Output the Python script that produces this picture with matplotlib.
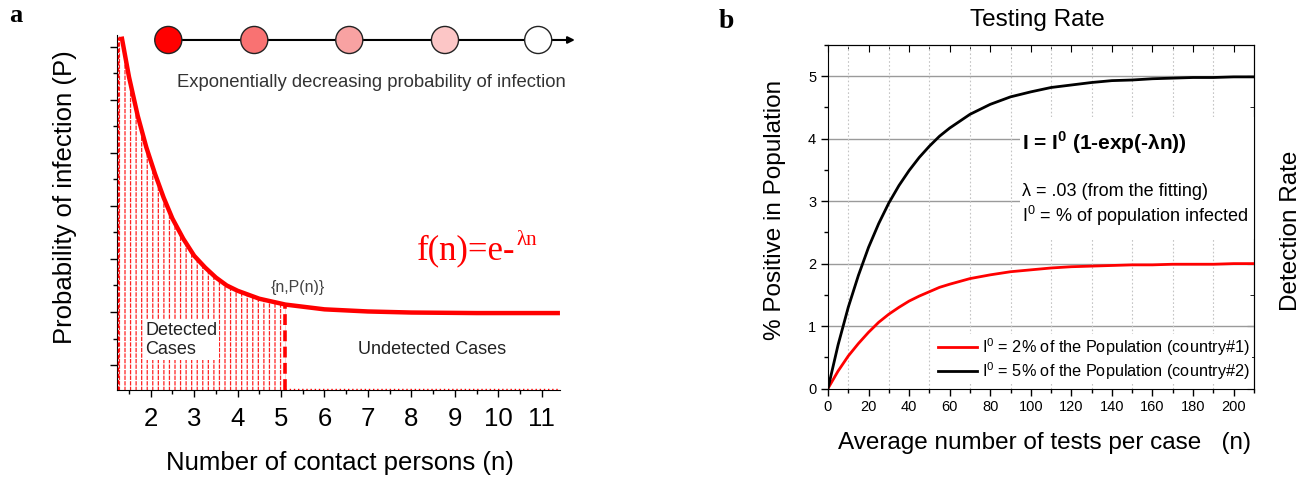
import numpy as np
import matplotlib
matplotlib.use("Agg")
import matplotlib.pyplot as plt
from matplotlib.patches import Rectangle

plt.rcParams['font.family'] = ['Liberation Sans', 'DejaVu Sans']
plt.rcParams['hatch.linewidth'] = 0.9

# ---- panel a : probability of infection vs contacts
contacts = [1.33, 1.5, 1.7, 1.9, 2.1, 2.3, 2.5, 2.75, 3.0, 3.25, 3.5, 3.75,
            4.0, 4.5, 5.1, 6.0, 7.0, 8.0, 9.5, 11.42]
prob = [6.19, 5.43, 4.70, 4.10, 3.60, 3.15, 2.76, 2.38, 2.06, 1.84, 1.65, 1.50,
        1.40, 1.25, 1.14, 1.05, 1.01, 0.99, 0.98, 0.98]
cutoff = 5.1
xticks_a = [2, 3, 4, 5, 6, 7, 8, 9, 10, 11]
circle_colors = ['#ff0000', '#f97272', '#f8a2a2', '#fcc6c6', '#ffffff']

# ---- panel b : % positive vs tests per case
tests = [0, 5, 10, 15, 20, 25, 30, 35, 40, 45, 50, 55, 60, 70, 80, 90, 100,
         110, 120, 130, 140, 150, 160, 170, 180, 190, 200, 210]
pos_c1 = [0, 0.28, 0.52, 0.72, 0.90, 1.06, 1.19, 1.30, 1.40, 1.48, 1.55, 1.62,
          1.67, 1.76, 1.82, 1.87, 1.90, 1.93, 1.95, 1.96, 1.97, 1.98, 1.98,
          1.99, 1.99, 1.99, 2.00, 2.00]
pos_c2 = [0, 0.70, 1.30, 1.81, 2.26, 2.64, 2.97, 3.25, 3.49, 3.70, 3.88, 4.04,
          4.17, 4.39, 4.55, 4.67, 4.75, 4.82, 4.86, 4.90, 4.93, 4.94, 4.96,
          4.97, 4.98, 4.98, 4.99, 4.99]
labels_b = [r'I$^{\mathregular{0}}$ = 2% of the Population (country#1)',
            r'I$^{\mathregular{0}}$ = 5% of the Population (country#2)']

fig = plt.figure(figsize=(13.01, 4.79), dpi=100)
W, H = 1301.0, 479.0

#=========================
#       PANEL A
#=========================
ax = fig.add_axes([0.0897, 0.1858, 0.3407, 0.7411])
xmin, xmax = 1.217, 11.42
ymin, ymax = -0.47, 6.22
ax.set_xlim(xmin, xmax)
ax.set_ylim(ymin, ymax)

k = contacts.index(cutoff)
nf = [xmin] + contacts[:k + 1]
pf = [prob[0]] + prob[:k + 1]
# dashed looking hatch: red verticals, cut by white horizontals
ax.fill_between(nf, ymin, pf, facecolor='none', edgecolor='#ff2020', hatch='|||', lw=0, zorder=1)
ax.fill_between(nf, ymin, pf, facecolor='none', edgecolor='white', hatch='---', lw=0, zorder=1.1)
ax.plot(contacts, prob, color='#ff0000', lw=3.2, solid_capstyle='butt', zorder=3)
ax.vlines(cutoff, ymin, prob[k], colors='#ff0000', linestyles=(0, (3, 1.5)), lw=2.6, zorder=3)
ax.vlines(xmin + 0.02, ymin, prob[0], colors='#ff0000', linestyles=(0, (3, 1.5)), lw=1, zorder=2.6)
ax.hlines(ymin + 0.02, cutoff, xmax, colors='#ff0000', linestyles=(0, (1, 2)), lw=1, zorder=2.6)

for s in ['top', 'right']:
    ax.spines[s].set_visible(False)
ax.set_xticks(xticks_a)
ax.set_xticks(np.arange(1.5, 11.5, 1.0), minor=True)
ax.set_yticks(range(0, 7))
ax.set_yticks(np.arange(0.5, 6.5, 1.0), minor=True)
ax.set_yticklabels([])
ax.tick_params(which='major', direction='out', length=5, width=1)
ax.tick_params(which='minor', direction='out', length=3, width=1)
ax.tick_params(axis='x', labelsize=18.5, pad=7)

# decoration on top: chain of circles
ax.annotate('', xy=(1.04, 0.986), xytext=(0.1164, 0.986), xycoords='axes fraction',
            arrowprops=dict(arrowstyle='-|>', color='black', lw=1.5, mutation_scale=10),
            annotation_clip=False)
cx = [0.1164, 0.3104, 0.5247, 0.7406, 0.9509]
ax.scatter(cx, [0.986] * len(cx), s=380, c=circle_colors, edgecolors='#222222',
           linewidths=1, transform=ax.transAxes, clip_on=False, zorder=5)

ax.text(0.574, 0.865, 'Exponentially decreasing probability of infection', transform=ax.transAxes,
        ha='center', va='center', fontsize=13.3, color='#333333')
ax.text(0.677, 0.392, 'f(n)=e-', transform=ax.transAxes, ha='left', va='center',
        fontsize=25, color='#ff0000', family='Liberation Serif')
ax.text(0.903, 0.4225, 'λn', transform=ax.transAxes, ha='left', va='center',
        fontsize=15, color='#ff0000', family='Liberation Serif')
ax.text(0.409, 0.29, '{n,P(n)}', transform=ax.transAxes, ha='center', va='center',
        fontsize=11.5, color='#444444')
ax.text(0.064, 0.141, 'Detected\nCases', transform=ax.transAxes, ha='left', va='center',
        fontsize=13, color='#222222', linespacing=1.15,
        bbox=dict(facecolor='white', edgecolor='none', pad=1.5), zorder=4)
ax.text(0.711, 0.115, 'Undetected Cases', transform=ax.transAxes, ha='center', va='center',
        fontsize=13, color='#222222')

fig.text(65 / W, 1 - 197 / H, 'Probability of infection (P)', rotation=90,
         ha='center', va='center', fontsize=18.5)
fig.text(340 / W, 1 - 463 / H, 'Number of contact persons (n)',
         ha='center', va='center', fontsize=18.5)
fig.text(16 / W, 1 - 15 / H, 'a', ha='center', va='center', fontsize=19,
         fontweight='bold', family='Liberation Serif')

#=========================
#       PANEL B
#=========================
bx = fig.add_axes([0.6364, 0.1889, 0.3274, 0.7171])
bx.set_xlim(0, 210)
bx.set_ylim(0, 5.5)
bx.set_xticks(range(0, 201, 20))
bx.set_xticks(range(10, 211, 20), minor=True)
bx.set_yticks(range(0, 6))
bx.set_yticks(np.arange(0.5, 5.6, 1.0), minor=True)
bx.tick_params(which='major', direction='out', length=5, width=1, labelsize=10.5)
bx.tick_params(which='minor', direction='out', length=3, width=1)

# grid drawn by hand so the text box can sit on top of it
for v in range(1, 6):
    bx.axhline(v, color='#9a9a9a', lw=1, zorder=0.5)
for v in range(10, 200, 20):
    bx.axvline(v, color='#c4c4c4', lw=0.8, ls=(0, (1.5, 2)), zorder=0.5)
bx.add_patch(Rectangle((94.5, 2.4), 115.5, 1.95, facecolor='white', edgecolor='none', zorder=0.8))

bx.plot(tests, pos_c1, color='#ff0000', lw=2, label=labels_b[0], zorder=3)
bx.plot(tests, pos_c2, color='black', lw=2, label=labels_b[1], zorder=3)

top = bx.secondary_xaxis('top')
top.set_xticks(range(0, 201, 20))
top.set_xticks(range(10, 211, 20), minor=True)
top.tick_params(which='major', direction='in', length=5, labeltop=False)
top.tick_params(which='minor', direction='in', length=3)
right = bx.secondary_yaxis('right')
right.set_yticks(range(0, 6))
right.set_yticks(np.arange(0.5, 5.6, 1.0), minor=True)
right.tick_params(which='major', direction='in', length=5, labelright=False)
right.tick_params(which='minor', direction='in', length=3)

leg = bx.legend(loc='lower right', bbox_to_anchor=(1.0, 0.008), fontsize=11.7, frameon=True,
                facecolor='white', edgecolor='none', framealpha=1, fancybox=False,
                handlelength=2.4, handletextpad=0.3, labelspacing=0.12, borderpad=0.15,
                borderaxespad=0.1)
leg.set_zorder(5)

fig.text(1022 / W, 1 - 143 / H, 'I = I$^{\\mathregular{0}}$ (1-exp(-λn))',
         ha='left', va='center', fontsize=15, fontweight='bold')
fig.text(1022 / W, 1 - 192 / H, 'λ = .03 (from the fitting)',
         ha='left', va='center', fontsize=13)
fig.text(1022 / W, 1 - 216 / H, 'I$^{\\mathregular{0}}$ = % of population infected',
         ha='left', va='center', fontsize=13)

fig.text(1037 / W, 1 - 20 / H, 'Testing Rate', ha='center', va='center', fontsize=17.5)
fig.text(775 / W, 1 - 210 / H, '% Positive in Population', rotation=90,
         ha='center', va='center', fontsize=17.5)
fig.text(1291 / W, 1 - 231 / H, 'Detection Rate', rotation=90,
         ha='center', va='center', fontsize=17.5)
fig.text(1045 / W, 1 - 443 / H, 'Average number of tests per case   (n)',
         ha='center', va='center', fontsize=17.5)
fig.text(726 / W, 1 - 22 / H, 'b', ha='center', va='center', fontsize=20,
         fontweight='bold', family='Liberation Serif')

fig.savefig('out.png', dpi=100)
